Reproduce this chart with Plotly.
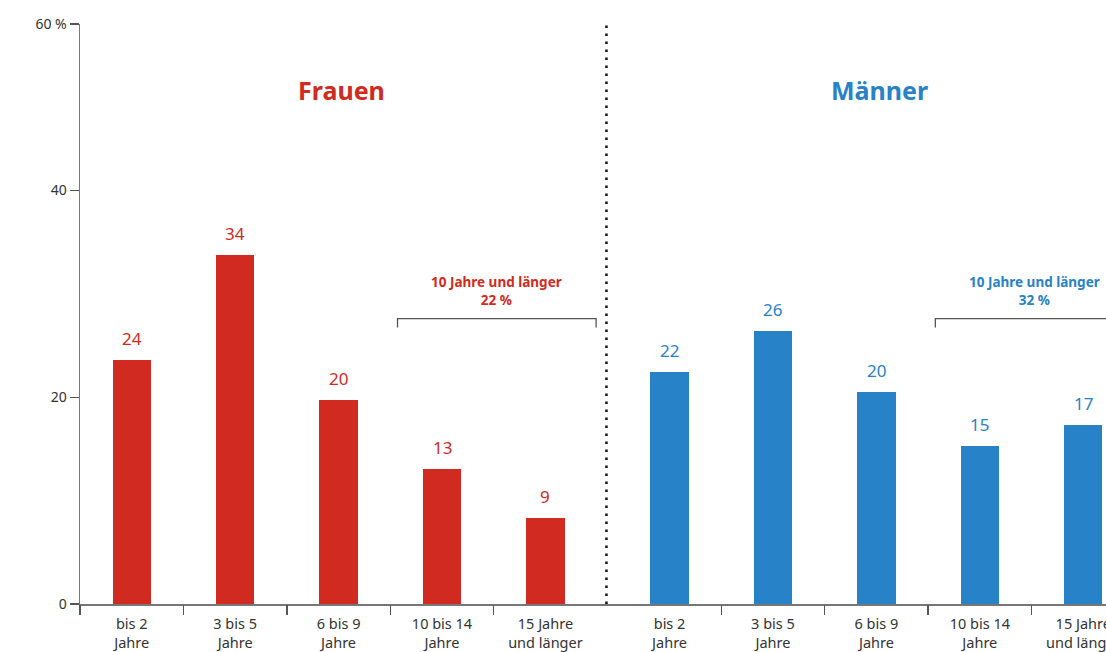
import plotly.graph_objects as go

categories = ["bis 2<br>Jahre", "3 bis 5<br>Jahre", "6 bis 9<br>Jahre",
              "10 bis 14<br>Jahre", "15 Jahre<br>und länger"]
frauen_values = [23.6, 33.8, 19.7, 13.1, 8.3]
frauen_labels = ["24", "34", "20", "13", "9"]
maenner_values = [22.4, 26.4, 20.5, 15.3, 17.3]
maenner_labels = ["22", "26", "20", "15", "17"]
group_titles = ["Frauen", "Männer"]
bracket_texts = ["10 Jahre und länger<br>22 %", "10 Jahre und länger<br>32 %"]
y_ticks = [0, 20, 40]
y_top_label = "60 %"

RED = "#d12a20"
BLUE = "#2882c8"
FONT = "Noto Sans"
TXT = "#333333"
AX = "#777777"

left_x = [float(i) for i in range(len(categories))]
gap = 5.2
right_x = [gap + i for i in range(len(categories))]
y_top = 56.1
bar_w = 0.37

fig = go.Figure()
fig.add_trace(go.Bar(x=left_x, y=frauen_values, width=bar_w, marker_color=RED,
                     marker_line_width=0, showlegend=False, hoverinfo="skip"))
fig.add_trace(go.Bar(x=right_x, y=maenner_values, width=bar_w, marker_color=BLUE,
                     marker_line_width=0, showlegend=False, hoverinfo="skip"))

annotations = []
for xs, vals, labs, col in [(left_x, frauen_values, frauen_labels, RED),
                            (right_x, maenner_values, maenner_labels, BLUE)]:
    for x, v, l in zip(xs, vals, labs):
        annotations.append(dict(x=x, y=v, text=l, showarrow=False, yanchor="bottom",
                                yshift=8, font=dict(family=FONT, size=17, color=col)))

# group titles
for xs, t, col in [(left_x, group_titles[0], RED), (right_x, group_titles[1], BLUE)]:
    annotations.append(dict(x=(xs[0] + xs[-1]) / 2 + 0.03, y=49.7, text="<b>%s</b>" % t,
                            showarrow=False, font=dict(family=FONT, size=25, color=col)))

shapes = []
bracket_y = 27.6
for xs, t, col in [(left_x, bracket_texts[0], RED), (right_x, bracket_texts[1], BLUE)]:
    mid = (xs[3] + xs[4]) / 2 + 0.03
    x0, x1 = mid - 0.96, mid + 0.96
    shapes.append(dict(type="path", xref="x", yref="y",
                       path="M %f %f L %f %f L %f %f L %f %f" % (x0, bracket_y - 0.85, x0, bracket_y,
                                                                x1, bracket_y, x1, bracket_y - 0.85),
                       line=dict(color="#555555", width=1.3)))
    annotations.append(dict(x=mid, y=bracket_y, text="<b>%s</b>" % t, showarrow=False,
                            yanchor="bottom", yshift=8,
                            font=dict(family=FONT, size=13.5, color=col)))

# dotted separator
sep_x = (left_x[-1] + right_x[0]) / 2 - 0.01
shapes.append(dict(type="line", xref="x", yref="paper", x0=sep_x, x1=sep_x, y0=0, y1=1.003,
                   line=dict(color="#111111", width=2.5, dash="2.5px,5.5px")))

# boundary ticks on x axis
boundaries = [left_x[0] - 0.5] + [x + 0.5 for x in left_x[:-1]] + [x + 0.5 for x in right_x[:-1]] + [right_x[-1] + 0.5]

fig.update_layout(
    width=1106, height=652,
    margin=dict(l=80, r=0, t=24, b=47.5),
    plot_bgcolor="white", paper_bgcolor="white",
    bargap=0,
    annotations=annotations,
    shapes=shapes,
    xaxis=dict(range=[-0.5, 9.42], tickvals=left_x + right_x, ticktext=categories + categories,
               ticks="", showline=True, linecolor=AX, linewidth=1.5, showgrid=False,
               zeroline=False, tickfont=dict(family=FONT, size=14.5, color=TXT), ticklabelstandoff=6,
               automargin=False, ticklabeloverflow="allow"),
    xaxis2=dict(range=[-0.5, 9.42], overlaying="x", side="bottom", tickvals=boundaries,
                showticklabels=False, ticks="outside", ticklen=10, tickcolor="#555555",
                tickwidth=1.3, showline=False, showgrid=False, zeroline=False, automargin=False),
    yaxis=dict(range=[0, y_top], tickvals=y_ticks + [y_top],
               ticktext=[str(v) for v in y_ticks] + [y_top_label],
               ticks="outside", ticklen=9, tickcolor="#555555", tickwidth=1.3,
               showline=True, linecolor=AX, linewidth=1.5, showgrid=False, zeroline=False,
               tickfont=dict(family=FONT, size=14, color=TXT), automargin=False),
)
# dummy trace to activate xaxis2
fig.add_trace(go.Scatter(x=[boundaries[0]], y=[0], xaxis="x2", mode="markers",
                         marker=dict(opacity=0), showlegend=False, hoverinfo="skip"))

fig.write_html("out.html", config={"displayModeBar": False, "staticPlot": True},
               post_script="document.body.style.margin='0';document.body.style.overflow='hidden';")
